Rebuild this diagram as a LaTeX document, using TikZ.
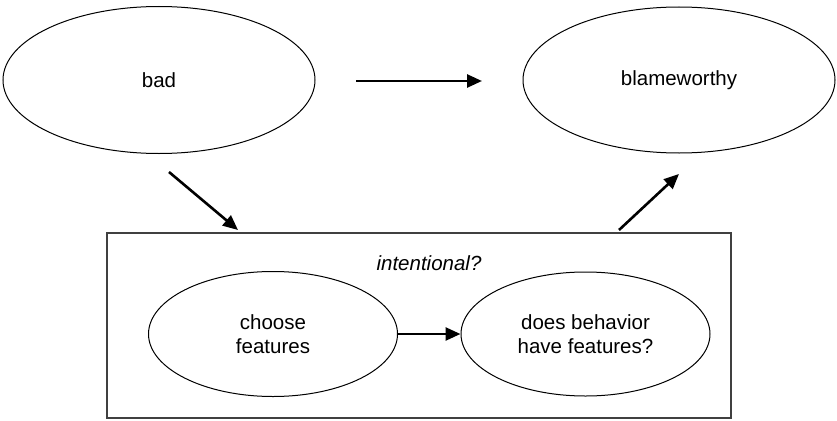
\documentclass[tikz,border=0pt]{standalone}
\usepackage{fontspec}
\setmainfont{Liberation Sans}
\usetikzlibrary{shapes.geometric,arrows.meta}
\tikzset{
  oval/.style={draw, ellipse, line width=1pt, inner sep=0pt, align=center, font=\fontsize{20.5}{24}\selectfont},
  conn/.style={line width=2.6pt, -{Triangle[length=15pt,width=13pt]}},
  frame/.style={draw=black!75, line width=1.3pt, inner sep=0pt}
}
\begin{document}
\begin{tikzpicture}[x=1pt,y=-1pt]
\useasboundingbox (0,0) rectangle (837,420);
\node[oval, minimum width=312pt, minimum height=147pt] (bad) at (159,80) {bad};
\node[oval, minimum width=312pt, minimum height=146pt] (blame) at (679,80) {blameworthy};
\node[frame, minimum width=624pt, minimum height=185pt] (box) at (419,325.5) {};
\node[font=\fontsize{20.5}{24}\selectfont\itshape] (int) at (429,263) {intentional?};
\node[oval, minimum width=249pt, minimum height=125pt] (choose) at (273,334) {choose\\features};
\node[oval, minimum width=249pt, minimum height=124pt] (does) at (585.5,334) {does behavior\\have features?};
\coordinate (h1) at (356,81);
\coordinate (h2) at (482,81);
\coordinate (d1) at (169,172);
\coordinate (d2) at (238,230);
\coordinate (u1) at (619,230);
\coordinate (u2) at (679,174);
\draw[conn] (h1) -- (h2);
\draw[conn] (d1) -- (d2);
\draw[conn] (u1) -- (u2);
\draw[conn] (choose.east) -- (does.west);
\end{tikzpicture}
\end{document}
